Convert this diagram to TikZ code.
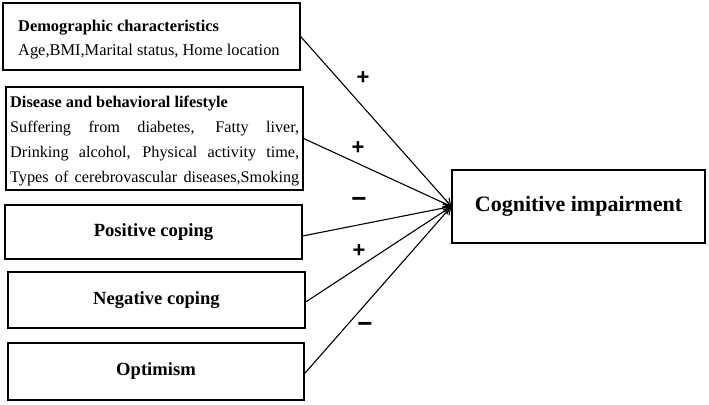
\documentclass[tikz,border=0pt]{standalone}
\usepackage{fontspec}
\setmainfont{Liberation Serif}
\newfontfamily\signfont{Liberation Sans}
\usetikzlibrary{arrows.meta}
\begin{document}
\begin{tikzpicture}[x=1pt,y=-1pt,
  box/.style={draw=black,line width=1.3pt,minimum width=297pt,inner sep=0pt},
  title/.style={font=\fontsize{18.6}{20}\selectfont\bfseries},
  conn/.style={line width=1.1pt,-{Straight Barb[length=7pt,width=8pt,line width=1.1pt]}},
  sign/.style={font=\signfont\bfseries\fontsize{22}{22}\selectfont},
  minus/.style={font=\signfont\bfseries\fontsize{26}{26}\selectfont}]
\useasboundingbox (0,0) rectangle (709,404);
\node[box,minimum height=67pt] (demo) at (151.5,36.5) {};
\node[anchor=west,align=left,inner sep=0pt,font=\fontsize{16.4}{24}\selectfont] (demotext) at (18,39.5)
  {{\bfseries Demographic characteristics}\\
   Age,BMI,Marital status, Home location};
\node[box,minimum height=103pt] (dis) at (154.5,138.5) {};
\node[anchor=west,align=left,inner sep=0pt,font=\fontsize{16.2}{25}\selectfont] (distext) at (10,141)
  {{\fontsize{16.3}{25}\selectfont\bfseries Disease and behavioral lifestyle}\\
   \makebox[289pt][s]{Suffering from diabetes, Fatty liver,}\\
   \makebox[289pt][s]{Drinking alcohol, Physical activity time,}\\
   \makebox[289pt][s]{Types of cerebrovascular diseases,Smoking}};
\node[box,minimum height=54pt,title] (pos) at (153.5,232) {Positive coping};
\node[box,minimum height=56pt,title] (neg) at (156.5,300) {Negative coping};
\node[box,minimum height=57pt,minimum width=296pt,title] (opt) at (156,371.5) {Optimism};
\node[box,minimum width=253pt,minimum height=73pt,font=\fontsize{22}{24}\selectfont\bfseries] (cog) at (578.5,206.5) {Cognitive impairment};
\draw[conn] (demo.east) -- (cog.west);
\draw[conn] (dis.east) -- (cog.west);
\draw[conn] ([yshift=-4pt]pos.east) -- (cog.west);
\draw[conn] ([yshift=-2pt]neg.east) -- (cog.west);
\draw[conn] ([yshift=-2pt]opt.east) -- (cog.west);
\node[sign] (s1) at (363,78) {+};
\node[sign] (s2) at (358,148) {+};
\node[minus] (s3) at (359,202) {−};
\node[sign] (s4) at (359,251) {+};
\node[minus] (s5) at (365,327) {−};
\end{tikzpicture}
\end{document}
